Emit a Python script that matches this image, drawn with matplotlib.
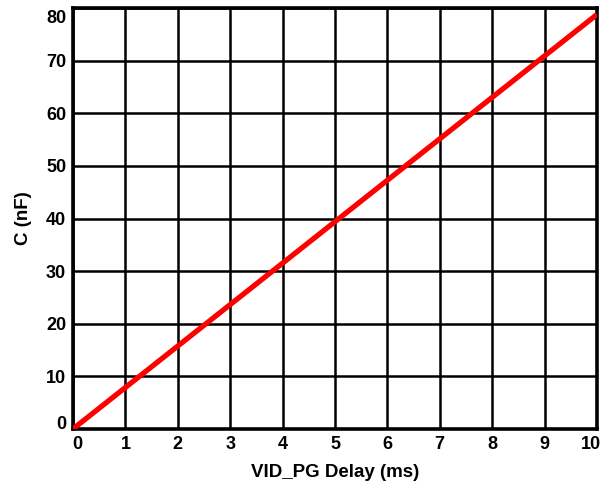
import numpy as np
import matplotlib.pyplot as plt
from matplotlib.transforms import ScaledTranslation

# 数据
delay_ms = [0, 10]
cap_nf = [0, 78.8]
x_ticks = list(range(0, 11))
y_ticks = list(range(0, 81, 10))

plt.rcParams['font.family'] = ['Liberation Sans', 'DejaVu Sans']
plt.rcParams['font.weight'] = 'bold'

fig = plt.figure(figsize=(6.06, 4.83), dpi=100)
ax = fig.add_axes([0.1205, 0.112, 0.8645, 0.871])

ax.plot(delay_ms, cap_nf, color='#ff0000', linewidth=3.8, solid_capstyle='butt', zorder=3)

ax.set_xlim(0, 10)
ax.set_ylim(0, 80)
ax.set_xticks(x_ticks)
ax.set_yticks(y_ticks)
ax.tick_params(length=0, labelsize=13, pad=5)
for lab in ax.get_xticklabels() + ax.get_yticklabels():
    lab.set_fontweight('bold')

ax.grid(True, color='black', linewidth=1.8)
ax.set_axisbelow(True)
for s in ax.spines.values():
    s.set_linewidth(2.6)

# 端点标签往里挪
fig.canvas.draw()
ylabs = ax.get_yticklabels()
xlabs = ax.get_xticklabels()
ylabs[-1].set_transform(ylabs[-1].get_transform() + ScaledTranslation(0, -8 / 100, fig.dpi_scale_trans))
ylabs[0].set_transform(ylabs[0].get_transform() + ScaledTranslation(0, 6 / 100, fig.dpi_scale_trans))
xlabs[-1].set_transform(xlabs[-1].get_transform() + ScaledTranslation(-6 / 100, 0, fig.dpi_scale_trans))
xlabs[0].set_transform(xlabs[0].get_transform() + ScaledTranslation(4 / 100, 0, fig.dpi_scale_trans))

ax.set_xlabel('VID_PG Delay (ms)', fontsize=13.5, fontweight='bold', labelpad=8)
ax.set_ylabel('C (nF)', fontsize=13.5, fontweight='bold', labelpad=10)

fig.savefig('out.png', dpi=100)
